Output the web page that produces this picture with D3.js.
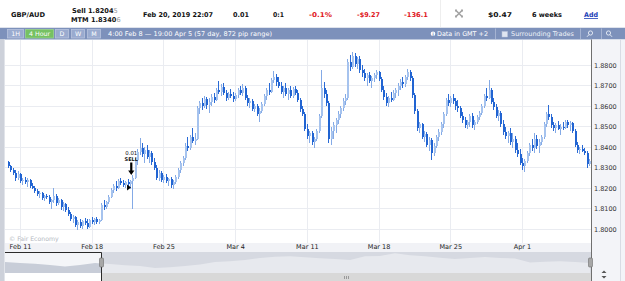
<!DOCTYPE html>
<html>
<head>
<meta charset="utf-8">
<script src="https://cdn.jsdelivr.net/npm/d3@7"></script>
<style>
  html, body { margin: 0; padding: 0; background: #fff; overflow: hidden; }
  svg { display: block; font-family: "DejaVu Sans", Verdana, sans-serif; }
</style>
</head>
<body>
<div id="chart"></div>
<script>
// week starts, as 4-hour bar index (30 bars per trading week)
const dayTicks = [5, 35, 65, 95, 125, 155, 185, 215];
const dayLabels = ["Feb 11", "Feb 18", "Feb 25", "Mar 4", "Mar 11", "Mar 18", "Mar 25", "Apr 1"];
const priceTicks = [1.80, 1.81, 1.82, 1.83, 1.84, 1.85, 1.86, 1.87, 1.88];

// GBP/AUD 4 hour bars, Feb 8 - Apr 5
const opens = [
  1.8325,1.8305,1.8290,1.8275,1.8250,1.8270,1.8235,1.8240,1.8228,1.8238,
  1.8210,1.8200,1.8185,1.8170,1.8175,1.8150,1.8160,1.8155,1.8130,1.8140,
  1.8160,1.8125,1.8140,1.8105,1.8120,1.8095,1.8075,1.8050,1.8060,1.8020,
  1.8035,1.8015,1.8040,1.8030,1.8010,1.8045,1.8035,1.8048,1.8035,1.8045,
  1.8115,1.8105,1.8130,1.8155,1.8190,1.8210,1.8200,1.8235,1.8225,1.8215,
  1.8228,1.8220,1.8235,1.8250,1.8335,1.8375,1.8395,1.8365,1.8385,1.8350,
  1.8370,1.8325,1.8300,1.8250,1.8275,1.8240,1.8255,1.8235,1.8245,1.8215,
  1.8230,1.8255,1.8290,1.8320,1.8345,1.8405,1.8395,1.8450,1.8430,1.8440,
  1.8590,1.8615,1.8600,1.8635,1.8605,1.8620,1.8645,1.8630,1.8680,1.8670,
  1.8695,1.8665,1.8640,1.8660,1.8650,1.8635,1.8655,1.8680,1.8665,1.8690,
  1.8640,1.8615,1.8625,1.8585,1.8600,1.8560,1.8575,1.8610,1.8650,1.8680,
  1.8670,1.8725,1.8740,1.8715,1.8700,1.8670,1.8690,1.8660,1.8680,1.8650,
  1.8685,1.8665,1.8630,1.8585,1.8560,1.8490,1.8455,1.8470,1.8425,1.8440,
  1.8480,1.8550,1.8690,1.8660,1.8615,1.8440,1.8480,1.8505,1.8530,1.8560,
  1.8590,1.8625,1.8640,1.8815,1.8790,1.8845,1.8805,1.8830,1.8775,1.8760,
  1.8735,1.8750,1.8720,1.8735,1.8750,1.8765,1.8730,1.8680,1.8645,1.8615,
  1.8640,1.8630,1.8665,1.8680,1.8700,1.8715,1.8705,1.8740,1.8765,1.8735,
  1.8655,1.8575,1.8495,1.8510,1.8450,1.8465,1.8410,1.8435,1.8370,1.8405,
  1.8450,1.8475,1.8510,1.8560,1.8630,1.8615,1.8640,1.8625,1.8600,1.8590,
  1.8550,1.8530,1.8505,1.8520,1.8550,1.8505,1.8520,1.8545,1.8565,1.8600,
  1.8650,1.8640,1.8680,1.8620,1.8595,1.8550,1.8565,1.8510,1.8475,1.8455,
  1.8470,1.8425,1.8440,1.8385,1.8365,1.8320,1.8305,1.8330,1.8370,1.8410,
  1.8395,1.8440,1.8405,1.8425,1.8450,1.8510,1.8560,1.8545,1.8505,1.8495,
  1.8505,1.8490,1.8500,1.8495,1.8520,1.8505,1.8515,1.8480,1.8410,1.8385,
  1.8390,1.8380,1.8370,1.8315
];
const highs = [
  1.8330,1.8312,1.8300,1.8290,1.8282,1.8275,1.8250,1.8255,1.8248,1.8245,
  1.8225,1.8210,1.8195,1.8185,1.8180,1.8165,1.8172,1.8165,1.8145,1.8200,
  1.8170,1.8150,1.8148,1.8130,1.8125,1.8105,1.8085,1.8070,1.8065,1.8045,
  1.8050,1.8045,1.8055,1.8048,1.8050,1.8060,1.8055,1.8058,1.8050,1.8125,
  1.8140,1.8135,1.8165,1.8200,1.8220,1.8235,1.8245,1.8250,1.8240,1.8235,
  1.8245,1.8240,1.8265,1.8345,1.8390,1.8445,1.8420,1.8400,1.8410,1.8385,
  1.8380,1.8345,1.8310,1.8290,1.8285,1.8265,1.8270,1.8250,1.8255,1.8240,
  1.8265,1.8300,1.8330,1.8355,1.8420,1.8450,1.8460,1.8495,1.8470,1.8600,
  1.8625,1.8640,1.8650,1.8645,1.8640,1.8660,1.8665,1.8690,1.8720,1.8705,
  1.8710,1.8680,1.8670,1.8685,1.8670,1.8665,1.8690,1.8700,1.8705,1.8700,
  1.8655,1.8640,1.8635,1.8610,1.8610,1.8590,1.8620,1.8660,1.8690,1.8710,
  1.8735,1.8770,1.8755,1.8740,1.8715,1.8700,1.8710,1.8690,1.8700,1.8695,
  1.8700,1.8680,1.8640,1.8600,1.8570,1.8510,1.8480,1.8478,1.8450,1.8490,
  1.8560,1.8776,1.8715,1.8680,1.8625,1.8500,1.8520,1.8540,1.8575,1.8600,
  1.8640,1.8660,1.8830,1.8850,1.8862,1.8858,1.8840,1.8845,1.8800,1.8780,
  1.8760,1.8765,1.8745,1.8760,1.8775,1.8770,1.8740,1.8700,1.8665,1.8650,
  1.8670,1.8680,1.8690,1.8710,1.8730,1.8740,1.8750,1.8780,1.8775,1.8745,
  1.8665,1.8585,1.8520,1.8515,1.8480,1.8475,1.8450,1.8445,1.8420,1.8460,
  1.8490,1.8520,1.8570,1.8640,1.8660,1.8650,1.8660,1.8640,1.8630,1.8600,
  1.8570,1.8545,1.8530,1.8560,1.8565,1.8530,1.8555,1.8575,1.8610,1.8660,
  1.8690,1.8727,1.8690,1.8640,1.8610,1.8580,1.8575,1.8530,1.8500,1.8480,
  1.8495,1.8470,1.8455,1.8420,1.8390,1.8345,1.8340,1.8380,1.8420,1.8440,
  1.8470,1.8460,1.8440,1.8460,1.8520,1.8570,1.8605,1.8560,1.8520,1.8515,
  1.8525,1.8510,1.8520,1.8530,1.8530,1.8525,1.8520,1.8490,1.8425,1.8400,
  1.8410,1.8395,1.8380,1.8340
];
const lows = [
  1.8300,1.8280,1.8265,1.8235,1.8240,1.8225,1.8215,1.8220,1.8205,1.8200,
  1.8195,1.8175,1.8160,1.8150,1.8140,1.8135,1.8145,1.8120,1.8100,1.8125,
  1.8110,1.8115,1.8095,1.8090,1.8085,1.8065,1.8040,1.8030,1.8010,1.7995,
  1.8005,1.8000,1.8020,1.7998,1.8005,1.8025,1.8020,1.8025,1.8025,1.8040,
  1.8095,1.8100,1.8120,1.8150,1.8175,1.8185,1.8195,1.8215,1.8205,1.8200,
  1.8210,1.8195,1.8097,1.8245,1.8310,1.8360,1.8350,1.8320,1.8340,1.8320,
  1.8310,1.8290,1.8240,1.8235,1.8230,1.8225,1.8225,1.8210,1.8200,1.8195,
  1.8220,1.8245,1.8275,1.8305,1.8335,1.8380,1.8385,1.8420,1.8410,1.8435,
  1.8560,1.8580,1.8590,1.8585,1.8565,1.8600,1.8615,1.8625,1.8660,1.8650,
  1.8655,1.8625,1.8630,1.8640,1.8620,1.8625,1.8640,1.8655,1.8650,1.8630,
  1.8600,1.8590,1.8575,1.8570,1.8550,1.8522,1.8565,1.8600,1.8630,1.8655,
  1.8665,1.8710,1.8700,1.8690,1.8660,1.8640,1.8650,1.8630,1.8640,1.8640,
  1.8655,1.8620,1.8570,1.8550,1.8480,1.8440,1.8420,1.8410,1.8395,1.8430,
  1.8470,1.8540,1.8640,1.8600,1.8420,1.8410,1.8440,1.8470,1.8510,1.8540,
  1.8575,1.8605,1.8630,1.8770,1.8780,1.8790,1.8780,1.8760,1.8740,1.8720,
  1.8700,1.8710,1.8690,1.8715,1.8730,1.8720,1.8670,1.8630,1.8600,1.8595,
  1.8620,1.8625,1.8640,1.8650,1.8680,1.8690,1.8695,1.8725,1.8720,1.8640,
  1.8560,1.8480,1.8470,1.8440,1.8425,1.8400,1.8380,1.8337,1.8355,1.8395,
  1.8430,1.8460,1.8495,1.8550,1.8600,1.8595,1.8610,1.8580,1.8570,1.8540,
  1.8515,1.8495,1.8490,1.8500,1.8495,1.8485,1.8510,1.8530,1.8555,1.8590,
  1.8625,1.8635,1.8610,1.8580,1.8540,1.8525,1.8500,1.8460,1.8440,1.8420,
  1.8410,1.8395,1.8370,1.8350,1.8310,1.8290,1.8278,1.8320,1.8355,1.8380,
  1.8370,1.8390,1.8370,1.8410,1.8440,1.8500,1.8530,1.8495,1.8480,1.8470,
  1.8485,1.8460,1.8485,1.8490,1.8495,1.8480,1.8470,1.8400,1.8370,1.8365,
  1.8375,1.8360,1.8300,1.8305
];
const closes = [
  1.8305,1.8290,1.8275,1.8250,1.8270,1.8235,1.8240,1.8228,1.8238,1.8210,
  1.8200,1.8185,1.8170,1.8175,1.8150,1.8160,1.8155,1.8130,1.8140,1.8160,
  1.8125,1.8140,1.8105,1.8120,1.8095,1.8075,1.8050,1.8060,1.8020,1.8035,
  1.8015,1.8040,1.8030,1.8010,1.8045,1.8035,1.8048,1.8035,1.8045,1.8115,
  1.8105,1.8130,1.8155,1.8190,1.8210,1.8200,1.8235,1.8225,1.8215,1.8228,
  1.8220,1.8235,1.8250,1.8335,1.8375,1.8395,1.8365,1.8385,1.8350,1.8370,
  1.8325,1.8300,1.8250,1.8275,1.8240,1.8255,1.8235,1.8245,1.8215,1.8230,
  1.8255,1.8290,1.8320,1.8345,1.8405,1.8395,1.8450,1.8430,1.8440,1.8590,
  1.8615,1.8600,1.8635,1.8605,1.8620,1.8645,1.8630,1.8680,1.8670,1.8695,
  1.8665,1.8640,1.8660,1.8650,1.8635,1.8655,1.8680,1.8665,1.8690,1.8640,
  1.8615,1.8625,1.8585,1.8600,1.8560,1.8575,1.8610,1.8650,1.8680,1.8670,
  1.8725,1.8740,1.8715,1.8700,1.8670,1.8690,1.8660,1.8680,1.8650,1.8685,
  1.8665,1.8630,1.8585,1.8560,1.8490,1.8455,1.8470,1.8425,1.8440,1.8480,
  1.8550,1.8690,1.8660,1.8615,1.8440,1.8480,1.8505,1.8530,1.8560,1.8590,
  1.8625,1.8640,1.8815,1.8790,1.8845,1.8805,1.8830,1.8775,1.8760,1.8735,
  1.8750,1.8720,1.8735,1.8750,1.8765,1.8730,1.8680,1.8645,1.8615,1.8640,
  1.8630,1.8665,1.8680,1.8700,1.8715,1.8705,1.8740,1.8765,1.8735,1.8655,
  1.8575,1.8495,1.8510,1.8450,1.8465,1.8410,1.8435,1.8370,1.8405,1.8450,
  1.8475,1.8510,1.8560,1.8630,1.8615,1.8640,1.8625,1.8600,1.8590,1.8550,
  1.8530,1.8505,1.8520,1.8550,1.8505,1.8520,1.8545,1.8565,1.8600,1.8650,
  1.8640,1.8680,1.8620,1.8595,1.8550,1.8565,1.8510,1.8475,1.8455,1.8470,
  1.8425,1.8440,1.8385,1.8365,1.8320,1.8305,1.8330,1.8370,1.8410,1.8395,
  1.8440,1.8405,1.8425,1.8450,1.8510,1.8560,1.8545,1.8505,1.8495,1.8505,
  1.8490,1.8500,1.8495,1.8520,1.8505,1.8515,1.8480,1.8410,1.8385,1.8390,
  1.8380,1.8370,1.8315,1.8330
];

const trades = [{ bar: 50, price: 1.8203, size: "0.01", side: "SELL" }];

// overview strip under the chart
const navValues = [
  1.8376,1.8324,1.8290,1.8220,1.8140,1.8219,1.8324,1.8270,1.8200,1.8167,
  1.8062,1.8100,1.8170,1.8250,1.8376,1.8410,1.8480,1.8580,1.8650,1.8680,
  1.8620,1.8570,1.8533,1.8481,1.8680,1.8690,1.8840,1.8730,1.8680,1.8600,
  1.8533,1.8586,1.8638,1.8586,1.8560,1.8350,1.8390,1.8420,1.8380,1.8324
];
const navWindow = [0, 6.4];

const W = 625, H = 281;
const plot = { left: 5, right: 591, top: 40, bottom: 243 };

const bars = opens.map((o, i) => ({ i, o, h: highs[i], l: lows[i], c: closes[i] }));

const x = d3.scaleLinear().domain([5, 215]).range([20, 522]);
const y = d3.scaleLinear().domain([1.80, 1.88]).range([229, 65]);

const svg = d3.select('#chart').append('svg')
    .attr('width', W).attr('height', H)
    .attr('viewBox', [0, 0, W, H]);

svg.append('rect').attr('width', W).attr('height', H).attr('fill', '#fff');

// ---------- header row ----------
const head = svg.append('g').attr('font-weight', 'bold').attr('font-size', 6.6);
const headText = (tx, ty, str, w, fill) => head.append('text')
    .attr('x', tx).attr('y', ty).attr('fill', fill || '#111')
    .attr('textLength', w).attr('lengthAdjust', 'spacingAndGlyphs')
    .text(str);

headText(11, 17, 'GBP/AUD', 34);
head.append('text').attr('x', 72).attr('y', 12.5).attr('fill', '#111')
    .call(t => t.append('tspan').text('Sell 1.8204'))
    .call(t => t.append('tspan').attr('fill', '#9a9a9a').attr('font-weight', 'normal').text('5'));
head.append('text').attr('x', 71).attr('y', 21.5).attr('fill', '#111')
    .call(t => t.append('tspan').text('MTM 1.8340'))
    .call(t => t.append('tspan').attr('fill', '#9a9a9a').attr('font-weight', 'normal').text('6'));
headText(143, 17, 'Feb 20, 2019 22:07', 70);
headText(233, 17, '0.01', 16);
headText(273, 17, '0:1', 11);
headText(309, 17, '-0.1%', 23, '#e0151b');
headText(357, 17, '-$9.27', 23, '#e0151b');
headText(404, 17, '-136.1', 24, '#e0151b');
headText(488, 17, '$0.47', 24);
headText(532, 17, '6 weeks', 30);
headText(584, 17, 'Add', 14, '#1d3fb8');
svg.append('line').attr('x1', 584).attr('x2', 598).attr('y1', 18.5).attr('y2', 18.5)
    .attr('stroke', '#1d3fb8').attr('stroke-width', 0.8);

svg.append('line').attr('x1', 440.5).attr('x2', 440.5).attr('y1', 0).attr('y2', 27)
    .attr('stroke', '#eeeeee');

// close-trade icon
const ico = svg.append('g').attr('fill', '#a4a4a4');
ico.append('path').attr('d', 'M456,10.5 L462,16.5 M462,10.5 L456,16.5')
    .attr('stroke', '#a4a4a4').attr('stroke-width', 1.6);
[[455, 9.5], [461, 9.5], [455, 15.5], [461, 15.5]].forEach(p => ico.append('rect')
    .attr('x', p[0]).attr('y', p[1]).attr('width', 2).attr('height', 2));

// ---------- toolbar ----------
svg.append('rect').attr('x', 0).attr('y', 28).attr('width', W).attr('height', 11.5).attr('fill', '#7d91bb');
svg.append('line').attr('x1', 0).attr('x2', W).attr('y1', 27.5).attr('y2', 27.5).attr('stroke', '#dfe3ec');

const buttons = [
  { label: '1H', x0: 7, x1: 23, on: false },
  { label: '4 Hour', x0: 25, x1: 53, on: true },
  { label: 'D', x0: 55, x1: 68, on: false },
  { label: 'W', x0: 71, x1: 84, on: false },
  { label: 'M', x0: 87, x1: 100, on: false }
];
const btn = svg.append('g').selectAll('g').data(buttons).join('g');
btn.append('rect')
    .attr('x', d => d.x0 + 0.5).attr('y', 29.5).attr('width', d => d.x1 - d.x0).attr('height', 8.5)
    .attr('fill', d => d.on ? '#76c163' : '#9aabcf')
    .attr('stroke', d => d.on ? '#9ad48b' : '#b8c4de').attr('stroke-width', 0.8);
btn.append('text')
    .attr('x', d => (d.x0 + d.x1) / 2 + 0.5).attr('y', 36.3)
    .attr('text-anchor', 'middle').attr('font-size', 6.3).attr('fill', '#fff')
    .text(d => d.label);

svg.append('text').attr('x', 108).attr('y', 36.3).attr('font-size', 6.4).attr('fill', '#fff')
    .attr('textLength', 164).attr('lengthAdjust', 'spacingAndGlyphs')
    .text('4:00 Feb 8 \u2014 19:00 Apr 5 (57 day, 872 pip range)');

svg.append('circle').attr('cx', 433).attr('cy', 33.8).attr('r', 2.3).attr('fill', '#fff');
svg.append('text').attr('x', 433).attr('y', 35.8).attr('text-anchor', 'middle')
    .attr('font-size', 4.5).attr('font-weight', 'bold').attr('fill', '#7d91bb').text('i');
svg.append('text').attr('x', 437).attr('y', 36.3).attr('font-size', 6.4).attr('fill', '#fff')
    .attr('textLength', 51).attr('lengthAdjust', 'spacingAndGlyphs').text('Data in GMT +2');

[495.5, 580.5, 601.5].forEach(sx => svg.append('line')
    .attr('x1', sx).attr('x2', sx).attr('y1', 28.5).attr('y2', 39)
    .attr('stroke', '#a5b3d2'));

svg.append('rect').attr('x', 502).attr('y', 31.5).attr('width', 5.5).attr('height', 5.5)
    .attr('fill', '#dfe5f1').attr('stroke', '#b9c4dc').attr('stroke-width', 0.5);
svg.append('text').attr('x', 511).attr('y', 36.3).attr('font-size', 6.4).attr('fill', '#eef1f8')
    .attr('textLength', 63).attr('lengthAdjust', 'spacingAndGlyphs').text('Surrounding Trades');

[590, 609].forEach((mx, k) => {
  const m = svg.append('g').attr('stroke', '#e9edf6').attr('fill', 'none').attr('stroke-width', 0.9);
  m.append('circle').attr('cx', mx + (k ? -0.5 : 0.5)).attr('cy', 33).attr('r', 2.1);
  m.append('line').attr('x1', mx + (k ? 1 : -1)).attr('y1', 34.6).attr('x2', mx + (k ? 3 : -3)).attr('y2', 36.8);
});

// ---------- plot area ----------
svg.append('rect').attr('x', 0).attr('y', 39.5).attr('width', 4).attr('height', H - 39.5).attr('fill', '#cdd1da');
svg.append('line').attr('x1', 4.5).attr('x2', 4.5).attr('y1', 39.5).attr('y2', H).attr('stroke', '#e1e4ea');

const grid = svg.append('g').attr('stroke', '#eaecf1').attr('stroke-width', 1).attr('shape-rendering', 'crispEdges');
grid.selectAll('.v').data(dayTicks).join('line')
    .attr('x1', d => Math.round(x(d)) + 0.5).attr('x2', d => Math.round(x(d)) + 0.5)
    .attr('y1', plot.top).attr('y2', plot.bottom);
grid.selectAll('.h').data(priceTicks).join('line')
    .attr('x1', plot.left).attr('x2', plot.right)
    .attr('y1', d => Math.round(y(d)) + 0.5).attr('y2', d => Math.round(y(d)) + 0.5);

svg.append('clipPath').attr('id', 'plotClip').append('rect')
    .attr('x', plot.left).attr('y', plot.top)
    .attr('width', plot.right - plot.left).attr('height', plot.bottom - plot.top);

const up = { body: '#a6c3ee', wick: '#84aae6' };
const dn = { body: '#2164d2', wick: '#2a6bd6' };

const candles = svg.append('g').attr('clip-path', 'url(#plotClip)')
    .attr('shape-rendering', 'crispEdges')
  .selectAll('g').data(bars).join('g');

candles.append('rect')
    .attr('x', d => Math.round(x(d.i)))
    .attr('width', 1)
    .attr('y', d => y(d.h))
    .attr('height', d => Math.max(1, y(d.l) - y(d.h)))
    .attr('fill', d => d.c >= d.o ? up.wick : dn.wick);

candles.append('rect')
    .attr('x', d => Math.round(x(d.i)) - 0.5)
    .attr('width', 2)
    .attr('y', d => y(Math.max(d.o, d.c)))
    .attr('height', d => Math.max(1, Math.abs(y(d.o) - y(d.c))))
    .attr('fill', d => d.c >= d.o ? up.body : dn.body);

// trade marker
const tg = svg.append('g').selectAll('g').data(trades).join('g')
    .attr('transform', d => `translate(${x(d.bar)},${y(d.price)})`);
tg.append('path').attr('d', 'M-0.5,-3 L3.5,0 L-0.5,3 Z').attr('fill', '#000');
tg.append('path').attr('d', 'M2.6,-25 H4.8 V-17 H6.8 L3.7,-12.5 L0.6,-17 H2.6 Z').attr('fill', '#000');
tg.append('text').attr('x', 3.7).attr('y', -26.5).attr('text-anchor', 'middle')
    .attr('font-size', 5).attr('font-weight', 'bold').attr('fill', '#111').text(d => d.side);
tg.append('text').attr('x', 3.7).attr('y', -32.5).attr('text-anchor', 'middle')
    .attr('font-size', 5.4).attr('fill', '#111').text(d => d.size);

svg.append('text').attr('x', 9).attr('y', 240.5).attr('font-size', 6.2).attr('fill', '#b4b8c1')
    .text('\u00a9 Fair Economy');

// ---------- right price axis ----------
svg.append('rect').attr('x', plot.right + 1).attr('y', 39.5).attr('width', W - plot.right).attr('height', H - 39.5)
    .attr('fill', '#f3f4f8');
svg.append('line').attr('x1', 620.5).attr('x2', 620.5).attr('y1', 39.5).attr('y2', H).attr('stroke', '#d9dce4');
svg.append('line').attr('x1', plot.right + 0.5).attr('x2', plot.right + 0.5).attr('y1', 39.5).attr('y2', H)
    .attr('stroke', '#6f6f6f');

const yAxis = svg.append('g').attr('transform', `translate(${plot.right + 0.5},0)`)
    .call(d3.axisRight(y).tickValues(priceTicks).tickFormat(d3.format('.4f')).tickSize(0).tickPadding(2.5));
yAxis.select('.domain').remove();
yAxis.selectAll('text').attr('font-size', 6.5).attr('fill', '#333').attr('font-family', '"DejaVu Sans", Verdana, sans-serif');

// ---------- date axis band ----------
svg.append('rect').attr('x', plot.left).attr('y', plot.bottom).attr('width', plot.right - plot.left).attr('height', 9)
    .attr('fill', '#f1f2f6');
const xAxis = svg.append('g').attr('transform', `translate(0,${plot.bottom})`)
    .call(d3.axisBottom(x).tickValues(dayTicks).tickFormat((d, i) => dayLabels[i]).tickSize(0).tickPadding(1.8));
xAxis.select('.domain').remove();
xAxis.selectAll('text').attr('font-size', 6.5).attr('fill', '#222').attr('font-family', '"DejaVu Sans", Verdana, sans-serif');

// ---------- navigator ----------
const nav = { top: 252, bottom: 273 };
const nx = d3.scaleLinear().domain([0, navValues.length - 1]).range([plot.left, 590]);
const ny = d3.scaleLinear().domain([1.78, 1.89]).range([nav.bottom, nav.top]);
const area = d3.area().x((d, i) => nx(i)).y0(nav.bottom).y1(d => ny(d));
const winX0 = nx(navWindow[0]), winX1 = nx(navWindow[1]);

svg.append('clipPath').attr('id', 'navIn').append('rect')
    .attr('x', winX0).attr('y', nav.top).attr('width', winX1 - winX0).attr('height', nav.bottom - nav.top);
svg.append('clipPath').attr('id', 'navOut').append('rect')
    .attr('x', winX1).attr('y', nav.top).attr('width', plot.right - winX1).attr('height', nav.bottom - nav.top);

svg.append('rect').attr('x', winX0).attr('y', nav.top).attr('width', winX1 - winX0).attr('height', nav.bottom - nav.top)
    .attr('fill', '#f4f5f8');
svg.append('path').datum(navValues).attr('d', area).attr('fill', '#c8cdd8').attr('clip-path', 'url(#navIn)');
svg.append('rect').attr('x', winX1).attr('y', nav.top).attr('width', plot.right - winX1).attr('height', nav.bottom - nav.top)
    .attr('fill', '#d6d9e1');
svg.append('path').datum(navValues).attr('d', area).attr('fill', '#e7e9ee').attr('clip-path', 'url(#navOut)');

// scrollbar
svg.append('rect').attr('x', winX1).attr('y', nav.bottom).attr('width', plot.right - winX1).attr('height', H - nav.bottom)
    .attr('fill', '#d8d8d8');
svg.append('rect').attr('x', winX0).attr('y', nav.bottom).attr('width', winX1 - winX0).attr('height', H - nav.bottom)
    .attr('fill', '#fff');
[344, 346, 348].forEach(gx => svg.append('line').attr('x1', gx + 0.5).attr('x2', gx + 0.5)
    .attr('y1', 276).attr('y2', 279).attr('stroke', '#9a9a9a'));

// selection outline and handles
svg.append('path')
    .attr('d', `M${winX0},${nav.top + 0.5} H${Math.round(winX1) + 0.5} V${H}`)
    .attr('fill', 'none').attr('stroke', '#2b2b2b').attr('stroke-width', 1);
[winX1, 589.5].forEach(hx => svg.append('rect')
    .attr('x', Math.round(hx) - 1.5).attr('y', 258).attr('width', 4).attr('height', 9).attr('rx', 1)
    .attr('fill', '#a7a7a7').attr('stroke', '#6d6d6d').attr('stroke-width', 0.6));

// up / down arrows in the axis corner
svg.append('path').attr('d', 'M604,270.5 L606.5,273 H601.5 Z M604,278.5 L606.5,276 H601.5 Z').attr('fill', '#555');
</script>
</body>
</html>
